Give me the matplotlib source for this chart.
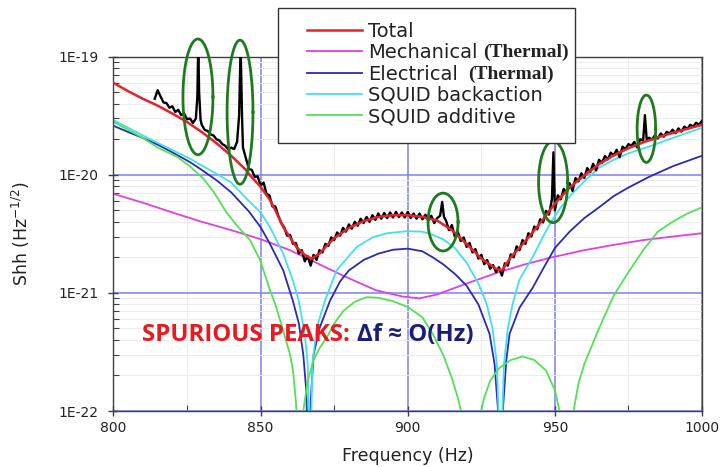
import numpy as np
import matplotlib
matplotlib.use("Agg")
import matplotlib.pyplot as plt
from matplotlib.patches import Rectangle
from matplotlib.ticker import FixedLocator, FixedFormatter, LogLocator, NullFormatter, MultipleLocator

# all strain values in units of 1e-21 Hz^-1/2
UNIT = 1e-21

total_f = [800, 805, 810, 815, 820, 825, 830, 835, 840, 845, 846.4, 850, 853.2, 855, 857.7,
           860, 862.2, 865, 867.3, 870, 872.4, 875, 880, 885, 890, 895, 900, 905, 910, 915,
           920, 925, 930, 932, 935, 940, 945, 950, 955, 960, 965, 970, 975, 980, 985, 990,
           995, 1000]
total_v = [60, 51, 44, 38.5, 33, 28, 23, 18.5, 14.5, 11, 9.9, 7.9, 6.1, 5.0, 3.6,
           2.95, 2.44, 2.1, 1.95, 2.15, 2.5, 2.9, 3.55, 4.05, 4.4, 4.55, 4.55, 4.4, 4.1, 3.4,
           2.6, 1.95, 1.6, 1.55, 2.0, 2.75, 3.9, 5.7, 7.8, 9.9, 12.3, 14.6, 16.8, 18.8, 20.8, 22.6,
           24.5, 26.5]

mech_f = [800, 810, 820, 830, 840, 850, 860, 867.3, 878, 889.3, 898.4, 904, 910, 915, 920,
          931, 940, 949, 960, 970, 980, 990, 1000]
mech_v = [6.9, 5.8, 4.8, 4.0, 3.4, 2.85, 2.3, 1.88, 1.4, 1.05, 0.93, 0.9, 0.97, 1.08, 1.2,
          1.5, 1.75, 2.0, 2.3, 2.55, 2.8, 3.0, 3.2]

elec_f = [800, 805, 810, 815, 820, 826, 830, 835, 840, 846, 850, 853, 857.7, 861, 863,
          864.5, 865.5, 866.3, 867, 868, 870, 873.5, 877, 880, 885, 890, 895, 900, 905, 908.5,
          912, 916, 920, 924, 927.8, 929.5, 930.7, 931.5, 932.3, 933.5, 934.6, 938, 942.4, 946,
          950, 955, 960, 965, 970, 975, 982, 990, 1000]
elec_v = [26, 23, 20.5, 18, 15.5, 12.8, 11, 9, 7.1, 4.9, 3.6, 2.65, 1.55, 0.85, 0.55,
          0.3, 0.15, 0.03, 0.12, 0.3, 0.5, 0.85, 1.25, 1.55, 1.9, 2.15, 2.32, 2.37, 2.25, 2.0,
          1.75, 1.45, 1.15, 0.8, 0.45, 0.25, 0.1, 0.03, 0.1, 0.27, 0.45, 0.75, 1.1, 1.6,
          2.4, 3.3, 4.3, 5.3, 6.6, 7.8, 9.6, 11.8, 14.5]

back_f = [800, 805, 812.5, 820, 826, 830, 835, 840, 846, 850, 853.2, 857.7, 861, 863, 865,
          866, 866.8, 867.6, 869, 871.8, 875.8, 882.6, 888, 893, 899.6, 905, 908.5, 912, 916,
          920, 924, 926.8, 928.8, 930.3, 931.5, 932.7, 934, 935.6, 938, 942.4, 946, 949, 952,
          956, 960, 965, 970, 975, 982, 990, 1000]
back_v = [29, 25, 20, 16.2, 13.7, 12, 10.2, 8.6, 6.0, 4.8, 3.6, 2.14, 1.27, 0.85, 0.45,
          0.25, 0.03, 0.25, 0.5, 0.85, 1.55, 2.44, 2.95, 3.2, 3.33, 3.3, 3.1, 2.85, 2.4,
          1.8, 1.2, 0.81, 0.5, 0.25, 0.03, 0.25, 0.5, 0.8, 1.3, 2.0, 3.0, 4.1, 5.3,
          7.0, 8.8, 11.5, 13.4, 15.2, 17.3, 20.5, 25]

add_f = [800, 805, 810, 815, 821.6, 826, 830.5, 834, 838.4, 842, 846.4, 849.8, 853.2, 855,
         858, 860, 861, 862, 863.3, 864.5, 866, 868, 870, 872.5, 875, 878, 882, 886, 890,
         895, 900, 905, 908.5, 912, 915, 917, 918.5, 920, 923, 924.5, 926, 928, 931, 935,
         939, 943, 947, 950, 952, 954, 956, 958, 960, 965, 970, 975, 980, 985, 990, 995, 1000]
add_v = [28, 24, 20.5, 17, 14.2, 11.8, 9.3, 7.2, 4.8, 3.7, 2.8, 1.9, 1.05, 0.8,
         0.45, 0.3, 0.22, 0.12, 0.03, 0.1, 0.18, 0.27, 0.34, 0.42, 0.55, 0.7, 0.84, 0.92, 0.91,
         0.85, 0.76, 0.62, 0.45, 0.3, 0.19, 0.13, 0.09, 0.04, 0.04, 0.09, 0.13, 0.18, 0.23, 0.27,
         0.29, 0.27, 0.22, 0.15, 0.09, 0.03, 0.09, 0.17, 0.25, 0.5, 0.95, 1.5, 2.3, 3.3, 4.0, 4.7, 5.3]

# measured spectrum (black)
meas_f = [814, 815, 816, 817, 818, 819, 820, 821, 822, 823, 824, 825, 826, 827, 828,
          828.5, 828.8, 829.1, 829.6, 830, 831, 832, 833, 834, 835, 836, 837, 838, 839, 840,
          841, 842, 842.7, 843.2, 843.7, 844, 845, 846, 847, 848, 849, 850, 851, 852, 853,
          854, 855, 856, 857, 858, 859, 860, 861, 862, 863, 864, 865, 866, 867, 868,
          869, 870, 871, 872, 873, 874, 875, 876, 877, 878, 879, 880, 881, 882, 883,
          884, 885, 886, 887, 888, 889, 890, 891, 892, 893, 894, 895, 896, 897, 898,
          899, 900, 901, 902, 903, 904, 905, 906, 907, 908, 909, 910, 911, 911.7, 912.3,
          913, 914, 915, 916, 917, 918, 919, 920, 921, 922, 923, 924, 925, 926, 927,
          928, 929, 930, 931, 932, 933, 934, 935, 936, 937, 938, 939, 940, 941, 942,
          943, 944, 945, 946, 947, 948, 949, 949.5, 950, 951, 952, 953, 954, 955, 956,
          957, 958, 959, 960, 961, 962, 963, 964, 965, 966, 967, 968, 969, 970, 971,
          972, 973, 974, 975, 976, 977, 978, 979, 980, 980.6, 981.2, 982, 983, 984, 985,
          986, 987, 988, 989, 990, 991, 992, 993, 994, 995, 996, 997, 998, 999, 1000]
meas_v = [44, 52, 46, 41, 40.5, 37, 38, 34, 35.5, 32, 33, 29.5, 30, 27.5, 30,
          46, 130, 50, 29, 26.5, 24, 23.5, 22, 21.5, 20, 19.5, 18.2, 17.6, 16.4, 17,
          16.5, 19, 32, 125, 30, 17, 13.8, 11.2, 11, 9.6, 9.7, 8.1, 8.6, 6.9, 6.7,
          5.4, 5.4, 4.5, 3.9, 3.6, 3.05, 3.1, 2.6, 2.65, 2.15, 2.3, 1.85, 2.05, 1.7, 2.1,
          1.9, 2.3, 2.2, 2.6, 2.5, 2.95, 2.8, 3.25, 3.05, 3.55, 3.3, 3.8, 3.5, 4.0, 3.7,
          4.25, 3.9, 4.4, 4.0, 4.55, 4.15, 4.7, 4.25, 4.75, 4.3, 4.8, 4.35, 4.85, 4.4, 4.8,
          4.35, 4.85, 4.3, 4.7, 4.25, 4.7, 4.2, 4.6, 4.1, 4.5, 3.9, 4.3, 4.5, 5.9, 4.4,
          4.1, 3.4, 3.75, 3.0, 3.3, 2.75, 2.95, 2.45, 2.65, 2.2, 2.35, 1.95, 2.1, 1.75, 1.9,
          1.6, 1.72, 1.5, 1.65, 1.4, 1.78, 1.7, 2.12, 2.0, 2.48, 2.3, 2.8, 2.6, 3.2, 3.0,
          3.65, 3.45, 4.2, 3.95, 4.95, 4.6, 6.2, 15.5, 5.0, 6.7, 6.2, 7.6, 7.0, 8.5, 7.3,
          9.4, 8.8, 10.3, 9.4, 11.4, 10.5, 12.4, 10.9, 13.4, 12.6, 14.4, 13.5, 15.4, 14.6, 16.3,
          14.1, 17.3, 16.5, 18.2, 17.6, 19.0, 17.0, 20.0, 19.5, 32, 20, 20.6, 19.9, 21.6, 20.3,
          22.4, 21.0, 23.1, 22.4, 24.1, 22.5, 24.7, 23.2, 25.6, 24.4, 26.5, 25.6, 27.6, 26.5, 28.6]

# spurious peak markers: centre freq, centre log10(S), width (Hz), height (decades)
ring_f = [828.7, 843.0, 912.0, 949.4, 981.1]
ring_logs = [-19.34, -19.47, -20.40, -20.06, -19.61]
ring_w = [10.2, 8.8, 10.2, 9.9, 6.3]
ring_h = [0.98, 1.22, 0.49, 0.69, 0.57]

series = [
    ("Total", total_f, total_v, "#e8202a", 1.8),
    ("Mechanical", mech_f, mech_v, "#e040e0", 1.3),
    ("Electrical", elec_f, elec_v, "#2a2ab4", 1.3),
    ("SQUID backaction", back_f, back_v, "#40e0f0", 1.3),
    ("SQUID additive", add_f, add_v, "#55e055", 1.3),
]

fig = plt.figure(figsize=(7.22, 4.67), dpi=100)
ax = fig.add_axes([0.1572, 0.1199, 0.8151, 0.7587])
ax.set_yscale("log")
ax.set_xlim(800, 1000)
ax.set_ylim(1e-22, 1e-19)

handles = []
for name, f, v, col, lw in series:
    z = 4 if name == "Total" else 2
    h, = ax.plot(f, np.array(v) * UNIT, color=col, lw=lw, zorder=z, label=name)
    handles.append(h)
ax.plot(meas_f, np.array(meas_v) * UNIT, color="black", lw=1.7, zorder=3)

t = np.linspace(0, 2 * np.pi, 200)
for cf, cl, w, hh in zip(ring_f, ring_logs, ring_w, ring_h):
    ax.plot(cf + w / 2 * np.cos(t), 10 ** (cl + hh / 2 * np.sin(t)),
            color="#1f7a1f", lw=2, zorder=5, clip_on=False)

# ticks and grid
ax.xaxis.set_major_locator(MultipleLocator(50))
ax.xaxis.set_minor_locator(MultipleLocator(25))
ytick_vals = [1e-22, 1e-21, 1e-20, 1e-19]
ytick_labels = ["1E-22", "1E-21", "1E-20", "1E-19"]
ax.yaxis.set_major_locator(FixedLocator(ytick_vals))
ax.yaxis.set_major_formatter(FixedFormatter(ytick_labels))
ax.yaxis.set_minor_locator(LogLocator(base=10, subs=np.arange(2, 10)))
ax.yaxis.set_minor_formatter(NullFormatter())
ax.tick_params(which="major", direction="inout", length=7, width=1, labelsize=10,
               color="#404040", labelcolor="#222222")
ax.tick_params(axis="y", which="major", pad=7.5)
ax.tick_params(which="minor", direction="in", length=4, width=0.8, color="#404040")
ax.grid(which="major", color="#7f7fee", lw=1.1, zorder=1)
ax.grid(which="minor", color="#ececec", lw=0.7, zorder=0)
ax.set_axisbelow(True)
for s in ax.spines.values():
    s.set_color("#404040")
    s.set_linewidth(1)

ax.set_xlabel("Frequency (Hz)", fontsize=12.5, color="#222222", labelpad=9)
ax.set_ylabel("Shh (Hz$^{-1/2}$)", fontsize=12.5, color="#222222")
ax.yaxis.set_label_coords(-0.139, 0.5)

# annotation
t1 = ax.text(809.7, 10 ** -21.36, "SPURIOUS PEAKS:", fontsize=17.3, fontweight="bold",
             color="#e8191f", family=["Open Sans", "DejaVu Sans"], va="center", zorder=6)
ax.annotate("Δf ≈ O(Hz)", xy=(1, 0.5), xycoords=t1, xytext=(5, 0), textcoords="offset points",
            fontsize=17.3, fontweight="bold", color="#1c1c7a", family=["Open Sans", "DejaVu Sans"],
            va="center", zorder=6)

# legend with white box
box = Rectangle((0.385, 0.6938), 0.4114, 0.289, transform=fig.transFigure,
                facecolor="white", edgecolor="#333333", lw=1, zorder=8)
fig.patches.append(box)
leg = fig.legend(handles=handles, loc="upper left", bbox_to_anchor=(0.4252, 0.953),
                 frameon=False, fontsize=14, handlelength=2.85, handletextpad=0.3,
                 labelspacing=0.12, borderpad=0, borderaxespad=0)
leg.set_zorder(9)
for txt in leg.get_texts():
    txt.set_color("#222222")
for i in (1, 2):
    fig.add_artist(plt.Annotation("(Thermal)", xy=(1, 0.5), xycoords=leg.get_texts()[i],
                                  xytext=(4 + 3 * (i - 1), 0), textcoords="offset points",
                                  fontsize=14, fontweight="bold", family="Liberation Serif",
                                  va="center", color="#222222", zorder=10))

fig.savefig("out.png", dpi=100)
